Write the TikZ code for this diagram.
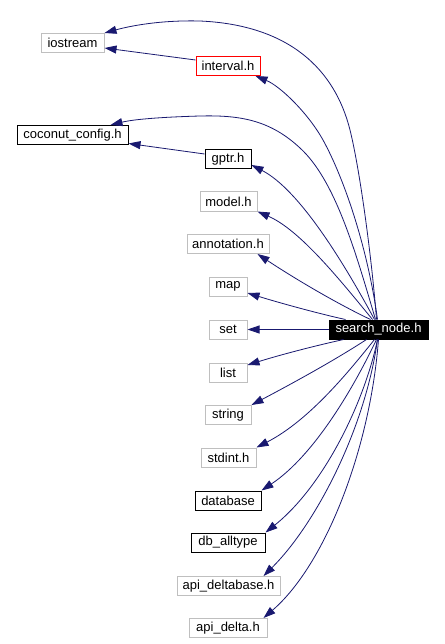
\documentclass[tikz,border=0pt]{standalone}
\usepackage{fontspec}
\setmainfont{Liberation Sans}
\usetikzlibrary{arrows.meta}
\definecolor{edgeblue}{HTML}{191970}
\definecolor{boxgrey}{HTML}{BFBFBF}
\definecolor{boxred}{HTML}{FF0000}
\tikzset{
  hdr/.style={rectangle, draw=boxgrey, line width=1pt, inner sep=0pt, minimum height=19pt,
    font=\fontsize{13}{14}\selectfont, text=black},
  hdrblack/.style={hdr, draw=black},
  hdrred/.style={hdr, draw=boxred},
  hdrmain/.style={hdr, draw=black, fill=black, text=white},
  dep/.style={draw=edgeblue, line width=0.8pt, -{Triangle[length=12pt,width=8pt]}, fill=none},
}
\begin{document}
\begin{tikzpicture}[x=1pt,y=-1pt]
\useasboundingbox[fill=white] (0,0) rectangle (444,644);
% nodes
\node[hdr, minimum width=63pt] (ios) at (72.5,43) {iostream};
\node[hdrred, minimum width=64pt] (intv) at (228,66) {interval.h};
\node[hdrblack, minimum width=111pt] (coco) at (72.5,135) {coconut\_config.h};
\node[hdrblack, minimum width=46pt] (gptr) at (228,159) {gptr.h};
\node[hdr, minimum width=57pt] (model) at (228.5,201.5) {model.h};
\node[hdr, minimum width=82pt] (annot) at (228,244) {annotation.h};
\node[hdr, minimum width=38pt] (map) at (228,286.5) {map};
\node[hdr, minimum width=38pt] (set) at (228,329.5) {set};
\node[hdrmain, minimum width=99pt] (sn) at (378.5,329.5) {search\_node.h};
\node[hdr, minimum width=38pt] (list) at (228,372.5) {list};
\node[hdr, minimum width=46pt] (str) at (228,415) {string};
\node[hdr, minimum width=55pt] (stdint) at (228.5,457.5) {stdint.h};
\node[hdrblack, minimum width=66pt] (db) at (228,500.5) {database};
\node[hdrblack, minimum width=74pt] (dball) at (228,542.5) {db\_alltype};
\node[hdr, minimum width=103pt] (adb) at (228.5,586) {api\_deltabase.h};
\node[hdr, minimum width=78pt] (ad) at (228,628) {api\_delta.h};
% edges
\draw[dep] ([xshift=-2pt]sn.north) .. controls (372,260) and (360,170) .. (350,130)
   .. controls (335,70) and (290,25) .. (200,21)
   .. controls (160,20) and (130,26) .. (ios.north east);
\draw[dep] ([xshift=-1pt]sn.north) .. controls (368,250) and (345,180) .. (323,140)
   .. controls (308,113) and (280,86) .. ([xshift=-5pt]intv.south east);
\draw[dep] ([yshift=6pt]intv.west) -- ([yshift=-5pt]ios.east);
\draw[dep] ([xshift=-3pt]sn.north) .. controls (355,250) and (335,180) .. (300,148)
   .. controls (270,120) and (240,115) .. (200,116)
   .. controls (165,117) and (135,119) .. ([xshift=-18pt]coco.north east);
\draw[dep] ([yshift=5pt]gptr.west) -- ([yshift=1.5pt]coco.south east);
\draw[dep] ([xshift=-4pt]sn.north) .. controls (345,265) and (300,190) .. ([yshift=-6pt]gptr.east);
\draw[dep] ([xshift=-6pt]sn.north) .. controls (340,280) and (300,230) .. (model.south east);
\draw[dep] ([xshift=-8pt]sn.north) .. controls (340,305) and (300,282) .. ([xshift=-12pt]annot.south east);
\draw[dep] ([xshift=-33pt]sn.north) .. controls (320,314) and (280,303) .. ([yshift=-6.5pt]map.east);
\draw[dep] (sn.west) -- (set.east);
\draw[dep] ([xshift=-35pt]sn.south) .. controls (310,347) and (280,355) .. ([yshift=7.5pt]list.east);
\draw[dep] ([xshift=-12pt]sn.south) .. controls (335,360) and (295,382) .. (str.north east);
\draw[dep] ([xshift=-4pt]sn.south) .. controls (350,370) and (310,420) .. (stdint.north east);
\draw[dep] ([xshift=-2pt]sn.south) .. controls (355,385) and (315,455) .. (db.north east);
\draw[dep] ([xshift=-1pt]sn.south) .. controls (365,400) and (325,485) .. (dball.north east);
\draw[dep] ([xshift=-1pt]sn.south) .. controls (365,430) and (315,525) .. ([xshift=-17pt]adb.north east);
\draw[dep] (sn.south) .. controls (370,450) and (325,565) .. ([xshift=-4pt]ad.north east);
\end{tikzpicture}
\end{document}
